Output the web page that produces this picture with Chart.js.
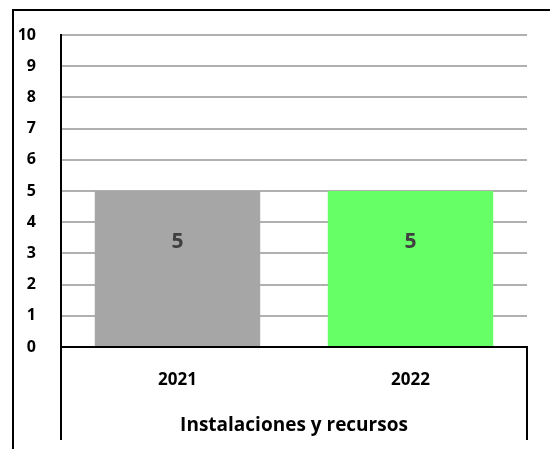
<!DOCTYPE html>
<html>
<head>
<meta charset="utf-8">
<script src="https://cdn.jsdelivr.net/npm/chart.js@4/dist/chart.umd.min.js"></script>
<style>
  html, body { margin:0; padding:0; background:#fff; }
  #wrap { position:relative; width:550px; height:449px; overflow:hidden; }
  #frame { position:absolute; left:12px; top:9px; width:600px; height:500px; border-left:2px solid #000; border-top:2px solid #000; pointer-events:none; }
  canvas { position:absolute; left:0; top:0; }
</style>
</head>
<body>
<div id="wrap">
  <canvas id="c" width="550" height="449"></canvas>
  <div id="frame"></div>
</div>
<script>
const categories = ["2021", "2022"];
const values = [5, 5];
const barColors = ["#a6a6a6", "#66ff66"];
const groupLabel = "Instalaciones y recursos";
const yMin = 0, yMax = 10, yStep = 1;

const FONT = "'Open Sans', 'DejaVu Sans', sans-serif";

const extras = {
  id: 'extras',
  afterDatasetsDraw(chart) {
    const ctx = chart.ctx;
    const { left, right, bottom } = chart.chartArea;
    const endY = chart.height - 9;
    ctx.save();
    ctx.strokeStyle = '#000';
    ctx.lineWidth = 2;
    ctx.beginPath();
    ctx.moveTo(left, bottom); ctx.lineTo(left, endY);
    ctx.moveTo(right, bottom); ctx.lineTo(right, endY);
    ctx.stroke();
    // data labels
    const meta = chart.getDatasetMeta(0);
    ctx.fillStyle = '#404040';
    ctx.font = "bold 21px " + FONT;
    ctx.textAlign = 'center';
    ctx.textBaseline = 'middle';
    meta.data.forEach((bar, i) => {
      const v = chart.data.datasets[0].data[i];
      ctx.fillText(String(v), bar.x, bar.base + (bar.y - bar.base) * 0.67);
    });
    ctx.restore();
  }
};

new Chart(document.getElementById('c'), {
  type: 'bar',
  data: {
    labels: categories,
    datasets: [{
      data: values,
      backgroundColor: barColors,
      borderWidth: 0,
      categoryPercentage: 1,
      barPercentage: 0.71
    }]
  },
  options: {
    responsive: false,
    animation: false,
    devicePixelRatio: 1,
    layout: { padding: { left: 0, right: 23, top: 35, bottom: 0 } },
    plugins: { legend: { display: false }, tooltip: { enabled: false } },
    scales: {
      x: {
        grid: { display: false, drawTicks: false },
        border: { display: true, color: '#000', width: 2 },
        ticks: { color: '#000', font: { family: FONT, size: 17, weight: 'bold' }, padding: 23, maxRotation: 0 },
        title: { display: true, text: groupLabel, color: '#000', font: { family: FONT, size: 19, weight: 'bold' }, padding: { top: 0, bottom: 12 } },
        afterFit(scale) { scale.height = 102; }
      },
      y: {
        min: yMin, max: yMax,
        grid: { color: '#b0b0b0', lineWidth: 2, drawTicks: false },
        border: { display: true, color: '#000', width: 2 },
        ticks: { stepSize: yStep, color: '#000', font: { family: FONT, size: 16, weight: 'bold' }, padding: 25 },
        afterFit(scale) { scale.width = 61; }
      }
    }
  },
  plugins: [extras]
});
</script>
</body>
</html>
